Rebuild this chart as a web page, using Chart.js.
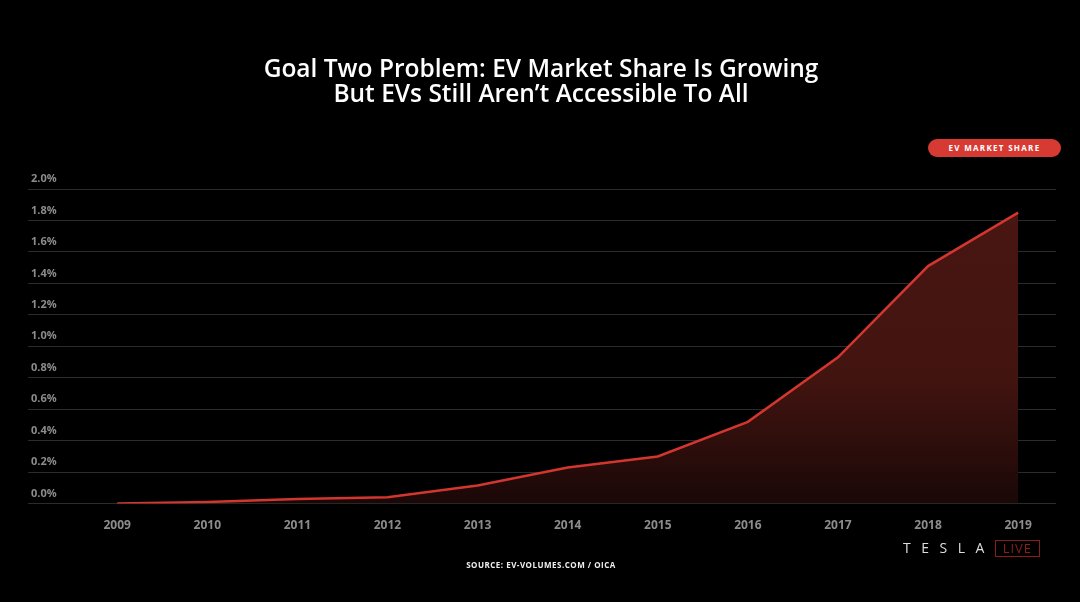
<!DOCTYPE html>
<html>
<head>
<meta charset="utf-8">
<script src="https://cdn.jsdelivr.net/npm/chart.js@4"></script>
<style>
  body { margin: 0; background: #000; }
  #wrap { position: relative; width: 1080px; height: 602px; background: #000; overflow: hidden; font-family: "Open Sans", sans-serif; }
  #chart { position: absolute; left: 0; top: 0; }
  .title { position: absolute; left: 0; width: 1082px; text-align: center; color: #fff; font-size: 24.5px; font-weight: 600; line-height: 25px; }
  .pill { position: absolute; left: 928px; top: 139px; width: 133px; height: 18px; border-radius: 9px; background: #d63a33; color: #fff; font-size: 8px; font-weight: 700; letter-spacing: 1.3px; line-height: 18px; text-align: center; }
  .source { position: absolute; left: 0; width: 1082px; top: 559px; text-align: center; color: #eee; font-size: 8px; font-weight: 700; letter-spacing: 0.5px; }
  .logo { position: absolute; left: 903px; top: 538px; color: #ddd; font-size: 14px; letter-spacing: 10.5px; font-weight: 400; white-space: nowrap; }
  .logo span { display: inline-block; border: 1px solid #8a1f1a; color: #8a1f1a; font-size: 13px; letter-spacing: 1px; width: 43px; text-align: center; line-height: 15px; }
</style>
</head>
<body>
<div id="wrap">
  <canvas id="chart" width="1080" height="602"></canvas>
  <div class="title" style="top:55px">Goal Two Problem: EV Market Share Is Growing</div>
  <div class="title" style="top:80px">But EVs Still Aren’t Accessible To All</div>
  <div class="pill">EV MARKET SHARE</div>
  <div class="source">SOURCE: EV-VOLUMES.COM / OICA</div>
  <div class="logo">TESLA<span>LIVE</span></div>
</div>
<script>
const years = [2009, 2010, 2011, 2012, 2013, 2014, 2015, 2016, 2017, 2018, 2019];
const evShare = [0.0, 0.01, 0.03, 0.04, 0.115, 0.23, 0.30, 0.52, 0.93, 1.51, 1.85];
const yTicks = [0.0, 0.2, 0.4, 0.6, 0.8, 1.0, 1.2, 1.4, 1.6, 1.8, 2.0];

const canvas = document.getElementById("chart");

new Chart(canvas, {
  type: "line",
  data: {
    datasets: [{
      label: "EV Market Share",
      data: years.map((y, i) => ({ x: y, y: evShare[i] })),
      borderColor: "#d2362e",
      borderWidth: 2.5,
      pointRadius: 0,
      tension: 0,
      fill: "origin",
      backgroundColor: (ctx) => {
        const area = ctx.chart.chartArea;
        if (!area) return "rgba(80,22,18,0.9)";
        const g = ctx.chart.ctx.createLinearGradient(0, area.top, 0, area.bottom);
        g.addColorStop(0, "rgb(74,22,18)");
        g.addColorStop(0.6, "rgb(66,20,16)");
        g.addColorStop(1, "rgb(26,8,7)");
        return g;
      }
    }]
  },
  options: {
    responsive: false,
    animation: false,
    layout: { padding: { left: 22, right: 24, top: 189, bottom: 54 } },
    plugins: {
      legend: { display: false },
      tooltip: { enabled: false }
    },
    scales: {
      x: {
        type: "linear",
        min: 2008.01,
        max: 2019.42,
        afterBuildTicks: (scale) => { scale.ticks = years.map(v => ({ value: v })); },
        grid: { display: false, drawTicks: false },
        border: { display: false },
        ticks: {
          color: "#8c8c8c",
          padding: 15,
          maxRotation: 0,
          autoSkip: false,
          font: { family: "Open Sans", size: 12, weight: "bold" },
          callback: (v) => String(v)
        }
      },
      y: {
        min: 0,
        max: 2.0,
        afterBuildTicks: (scale) => { scale.ticks = yTicks.map(v => ({ value: v })); },
        grid: { color: "#2b2b2b", lineWidth: 1, drawTicks: false },
        border: { display: false },
        ticks: {
          mirror: true,
          padding: 3,
          labelOffset: -10,
          color: "#8c8c8c",
          font: { family: "Open Sans", size: 11, weight: "bold" },
          callback: (v) => v.toFixed(1) + "%"
        }
      }
    }
  }
});
</script>
</body>
</html>
